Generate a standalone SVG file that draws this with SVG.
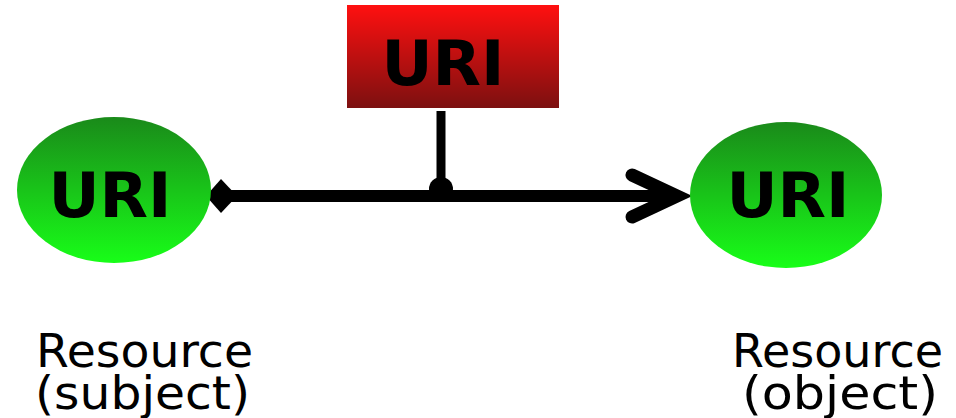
<svg xmlns="http://www.w3.org/2000/svg" width="956" height="418" viewBox="0 0 956 418">
<style>
.uri{font-family:"DejaVu Sans",Verdana,sans-serif;font-weight:bold;font-size:63px;fill:#000;text-anchor:middle}
.lbl{font-family:"DejaVu Sans",Verdana,sans-serif;font-size:47px;fill:#000}
.ln{stroke:#000;fill:none}
</style>
<defs>
<linearGradient id="gg" x1="0" y1="0" x2="0" y2="1">
<stop offset="0" stop-color="#1a8a1a"/>
<stop offset="1" stop-color="#18fe18"/>
</linearGradient>
<linearGradient id="rg" x1="0" y1="0" x2="0" y2="1">
<stop offset="0" stop-color="#ff1010"/>
<stop offset="1" stop-color="#7c1010"/>
</linearGradient>
</defs>
<rect width="956" height="418" fill="#fff"/>
<g id="connectors">
<line class="ln" x1="441" y1="111" x2="441" y2="190" stroke-width="9"/>
<line class="ln" x1="230" y1="196" x2="676" y2="196" stroke-width="12"/>
<circle cx="441" cy="189" r="12" fill="#000"/>
<polygon points="206,196 221,179 237,196 221,213" fill="#000"/>
<polyline class="ln" points="632,175 677,196 632,217" stroke-width="13" stroke-linecap="round" stroke-linejoin="miter"/>
</g>
<g id="subject">
<ellipse cx="114" cy="190" rx="97" ry="73" fill="url(#gg)"/>
<text class="uri" x="110" y="217">URI</text>
<text class="lbl" x="36" y="367" textLength="217" lengthAdjust="spacingAndGlyphs">Resource</text>
<text class="lbl" x="35" y="409" textLength="215" lengthAdjust="spacingAndGlyphs">(subject)</text>
</g>
<g id="predicate">
<rect x="347" y="5" width="212" height="103" fill="url(#rg)"/>
<text class="uri" x="443" y="85">URI</text>
</g>
<g id="object">
<ellipse cx="786" cy="195" rx="96" ry="73" fill="url(#gg)"/>
<text class="uri" x="788" y="217">URI</text>
<text class="lbl" x="732" y="367" textLength="211" lengthAdjust="spacingAndGlyphs">Resource</text>
<text class="lbl" x="742" y="409" textLength="196" lengthAdjust="spacingAndGlyphs">(object)</text>
</g>
</svg>
